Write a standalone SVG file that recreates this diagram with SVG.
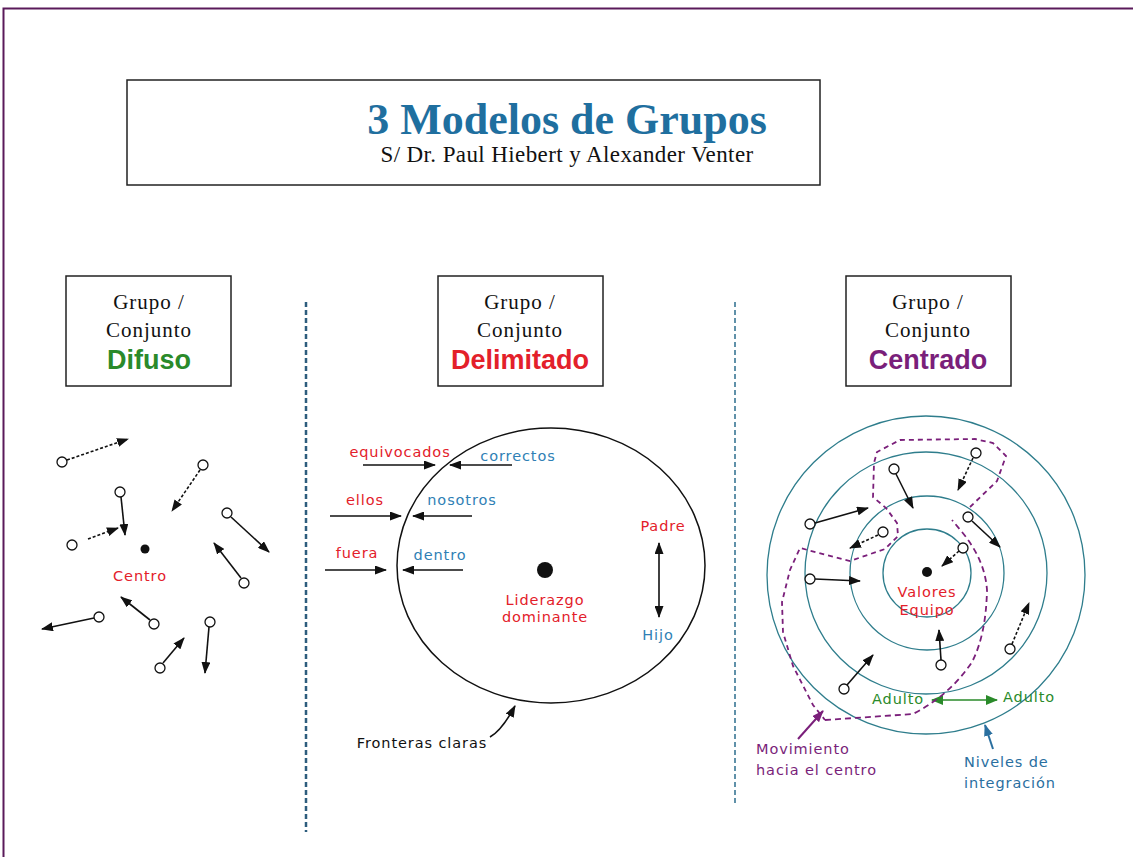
<svg xmlns="http://www.w3.org/2000/svg" width="1133" height="857" viewBox="0 0 1133 857">
<style>
.box{fill:#fff;stroke:#222;stroke-width:1.5}
.serif{font-family:"Liberation Serif","Times New Roman",serif;fill:#111;text-anchor:middle}
.gc{font-size:21px;letter-spacing:1px}
.hd{font-family:"Liberation Sans",Arial,sans-serif;font-weight:bold;text-anchor:middle;font-size:27px}
.lbl{font-family:"DejaVu Sans","Liberation Sans",sans-serif;font-size:14.5px;letter-spacing:0.9px;text-anchor:middle}
.st{text-anchor:start}
.red{fill:#e3202a}.blue{fill:#2f7fb5}.green{fill:#2a8a2a}.purple{fill:#7a1f7a}.black{fill:#111}.nblue{fill:#2a6f9f}
.node{fill:#fff;stroke:#111;stroke-width:1.3}
.a{stroke:#111;stroke-width:1.6;fill:none;marker-end:url(#ah)}
.ad{stroke:#111;stroke-width:1.6;fill:none;stroke-dasharray:3 2;marker-end:url(#ah)}
.ring{fill:none;stroke:#2e7d8c;stroke-width:1.3}
</style>
<defs>
<marker id="ah" markerUnits="userSpaceOnUse" markerWidth="12" markerHeight="9" refX="11" refY="4.5" orient="auto-start-reverse"><path d="M0,0 L12,4.5 L0,9 z" fill="#111"/></marker>
<marker id="ahg" markerUnits="userSpaceOnUse" markerWidth="12" markerHeight="10" refX="11" refY="5" orient="auto-start-reverse"><path d="M0,0 L12,5 L0,10 z" fill="#2a8a2a"/></marker>
<marker id="ahp" markerUnits="userSpaceOnUse" markerWidth="12" markerHeight="9" refX="11" refY="4.5" orient="auto"><path d="M0,0 L12,4.5 L0,9 z" fill="#7a1f7a"/></marker>
<marker id="ahb" markerUnits="userSpaceOnUse" markerWidth="12" markerHeight="9" refX="11" refY="4.5" orient="auto"><path d="M0,0 L12,4.5 L0,9 z" fill="#2a6f9f"/></marker>
</defs>
<rect x="0" y="0" width="1133" height="857" fill="#fff"/>
<path d="M3.5,857 L3.5,8.5 L1133,8.5" fill="none" stroke="#5a1a5a" stroke-width="2"/>

<g id="title">
<rect class="box" x="127" y="80" width="693" height="105"/>
<text x="567" y="134" font-family="'Liberation Serif','Times New Roman',serif" font-size="44" font-weight="bold" fill="#1f6f9f" text-anchor="middle">3 Modelos de Grupos</text>
<text x="567" y="162" class="serif" font-size="23" letter-spacing="0.4">S/ Dr. Paul Hiebert y Alexander Venter</text>
</g>

<g id="separators">
<line x1="306" y1="302" x2="306" y2="832" stroke="#2d5d7d" stroke-width="2.5" stroke-dasharray="5 3"/>
<line x1="735" y1="302" x2="735" y2="806" stroke="#2d6d8d" stroke-width="1.5" stroke-dasharray="5 3"/>
</g>

<g id="box-difuso">
<rect class="box" x="66" y="276" width="165" height="110"/>
<text x="149" y="309" class="serif gc">Grupo /</text>
<text x="149" y="337" class="serif gc">Conjunto</text>
<text x="149" y="369" class="hd green">Difuso</text>
</g>
<g id="box-delimitado">
<rect class="box" x="438" y="276" width="165" height="110"/>
<text x="520" y="309" class="serif gc">Grupo /</text>
<text x="520" y="337" class="serif gc">Conjunto</text>
<text x="520" y="369" class="hd red">Delimitado</text>
</g>
<g id="box-centrado">
<rect class="box" x="846" y="276" width="165" height="110"/>
<text x="928" y="309" class="serif gc">Grupo /</text>
<text x="928" y="337" class="serif gc">Conjunto</text>
<text x="928" y="369" class="hd purple">Centrado</text>
</g>

<!-- Difuso -->
<g id="difuso-centro">
<circle cx="145" cy="549" r="4.5" fill="#111"/>
<text x="140" y="581" class="lbl red">Centro</text>
</g>
<g id="difuso-nodes">
<circle class="node" cx="62" cy="462" r="5"/>
<circle class="node" cx="203" cy="465" r="5"/>
<circle class="node" cx="120" cy="492" r="5"/>
<circle class="node" cx="72" cy="545" r="5"/>
<circle class="node" cx="227" cy="513" r="5"/>
<circle class="node" cx="244" cy="583" r="5"/>
<circle class="node" cx="99" cy="617" r="5"/>
<circle class="node" cx="154" cy="624" r="5"/>
<circle class="node" cx="210" cy="622" r="5"/>
<circle class="node" cx="160" cy="668" r="5"/>
</g>

<!-- Delimitado -->
<g id="boundary">
<ellipse cx="551" cy="565.5" rx="154" ry="137.5" fill="none" stroke="#111" stroke-width="1.5"/>
</g>
<g id="liderazgo">
<circle cx="545" cy="570" r="8" fill="#111"/>
<text x="545" y="605" class="lbl red">Liderazgo</text>
<text x="545" y="622" class="lbl red">dominante</text>
</g>
<g id="labels-delimitado">
<text x="400" y="457" class="lbl red">equivocados</text>
<text x="518" y="461" class="lbl blue">correctos</text>
<text x="365" y="505" class="lbl red">ellos</text>
<text x="462" y="505" class="lbl blue">nosotros</text>
<text x="357" y="558" class="lbl red">fuera</text>
<text x="440" y="560" class="lbl blue">dentro</text>
<text x="663" y="531" class="lbl red">Padre</text>
<text x="658" y="640" class="lbl blue">Hijo</text>
<text x="422" y="748" class="lbl black">Fronteras claras</text>
</g>

<!-- Centrado -->
<g id="rings">
<circle class="ring" cx="927" cy="573" r="44"/>
<circle class="ring" cx="927" cy="573" r="77"/>
<circle class="ring" cx="926" cy="573" r="121"/>
<circle class="ring" cx="926" cy="575" r="159"/>
</g>
<g id="valores">
<circle cx="927" cy="572" r="5" fill="#111"/>
<text x="927" y="597" class="lbl red">Valores</text>
<text x="927" y="615" class="lbl red">Equipo</text>
</g>
<g id="centrado-nodes">
<circle class="node" cx="894" cy="469" r="5"/>
<circle class="node" cx="976" cy="453" r="5"/>
<circle class="node" cx="810" cy="524" r="5"/>
<circle class="node" cx="883" cy="532" r="5"/>
<circle class="node" cx="968" cy="517" r="5"/>
<circle class="node" cx="963" cy="548" r="5"/>
<circle class="node" cx="810" cy="579" r="5"/>
<circle class="node" cx="941" cy="665" r="5"/>
<circle class="node" cx="1010" cy="649" r="5"/>
<circle class="node" cx="844" cy="689" r="5"/>
</g>
<g id="adulto">
<text x="898" y="704" class="lbl green">Adulto</text>
<text x="1029" y="702" class="lbl green">Adulto</text>
</g>
<g id="movimiento">
<text x="756" y="754" class="lbl purple st">Movimiento</text>
<text x="756" y="775" class="lbl purple st">hacia el centro</text>
</g>
<g id="niveles">
<text x="964" y="767" class="lbl nblue st">Niveles de</text>
<text x="964" y="788" class="lbl nblue st">integración</text>
</g>

<g id="connectors">
<!-- difuso -->
<line class="ad" x1="67" y1="460" x2="128" y2="439"/>
<line class="ad" x1="200" y1="470" x2="172" y2="511"/>
<line class="a" x1="121" y1="497" x2="125" y2="535"/>
<line class="ad" x1="88" y1="539" x2="118" y2="528"/>
<line class="a" x1="231" y1="517" x2="269" y2="552"/>
<line class="a" x1="241" y1="578" x2="214" y2="543"/>
<line class="a" x1="94" y1="618" x2="42" y2="629"/>
<line class="a" x1="150" y1="620" x2="121" y2="597"/>
<line class="a" x1="209" y1="627" x2="205" y2="673"/>
<line class="a" x1="163" y1="663" x2="184" y2="638"/>
<!-- delimitado -->
<line class="a" x1="363" y1="465" x2="435" y2="465"/>
<line class="a" x1="512" y1="465" x2="450" y2="465"/>
<line class="a" x1="330" y1="516" x2="401" y2="516"/>
<line class="a" x1="472" y1="516" x2="413" y2="516"/>
<line class="a" x1="325" y1="570" x2="386" y2="570"/>
<line class="a" x1="463" y1="570" x2="403" y2="570"/>
<line class="a" x1="659" y1="543" x2="659" y2="617" style="marker-start:url(#ah)"/>
<path class="a" d="M490,737 Q502,730 515,706"/>
<!-- centrado -->
<line class="a" x1="896" y1="474" x2="913" y2="508"/>
<line class="ad" x1="973" y1="458" x2="958" y2="490"/>
<line class="a" x1="815" y1="523" x2="868" y2="508"/>
<line class="ad" x1="878" y1="535" x2="850" y2="548"/>
<line class="a" x1="972" y1="521" x2="1000" y2="547"/>
<line class="ad" x1="959" y1="551" x2="942" y2="566"/>
<line class="a" x1="815" y1="579" x2="860" y2="581"/>
<line class="a" x1="941" y1="660" x2="939" y2="630"/>
<line class="ad" x1="1012" y1="644" x2="1029" y2="603"/>
<line class="a" x1="847" y1="685" x2="873" y2="655"/>
<line x1="932" y1="700" x2="997" y2="700" stroke="#2a8a2a" stroke-width="1.6" marker-start="url(#ahg)" marker-end="url(#ahg)"/>
<path d="M825,720 L913,714 Q950,695 972,662 Q986,635 987,590 Q985,560 962,532 L952,520" fill="none" stroke="#7a1f7a" stroke-width="1.8" stroke-dasharray="6 4"/>
<path d="M970,507 L997,481 L1006,456 L993,443 L975,439 L900,440 L877,452 L874,463 L873,497 L886,508 L897,523 L898,536 L885,549 L850,561 L800,548 L790,570 L782,602 L783,632 L793,666 L813,705 L825,720" fill="none" stroke="#7a1f7a" stroke-width="1.8" stroke-dasharray="5 4"/>
<line x1="798" y1="739" x2="823" y2="711" stroke="#7a1f7a" stroke-width="2" marker-end="url(#ahp)"/>
<line x1="993" y1="749" x2="985" y2="725" stroke="#2a6f9f" stroke-width="2" marker-end="url(#ahb)"/>
</g>
</svg>
